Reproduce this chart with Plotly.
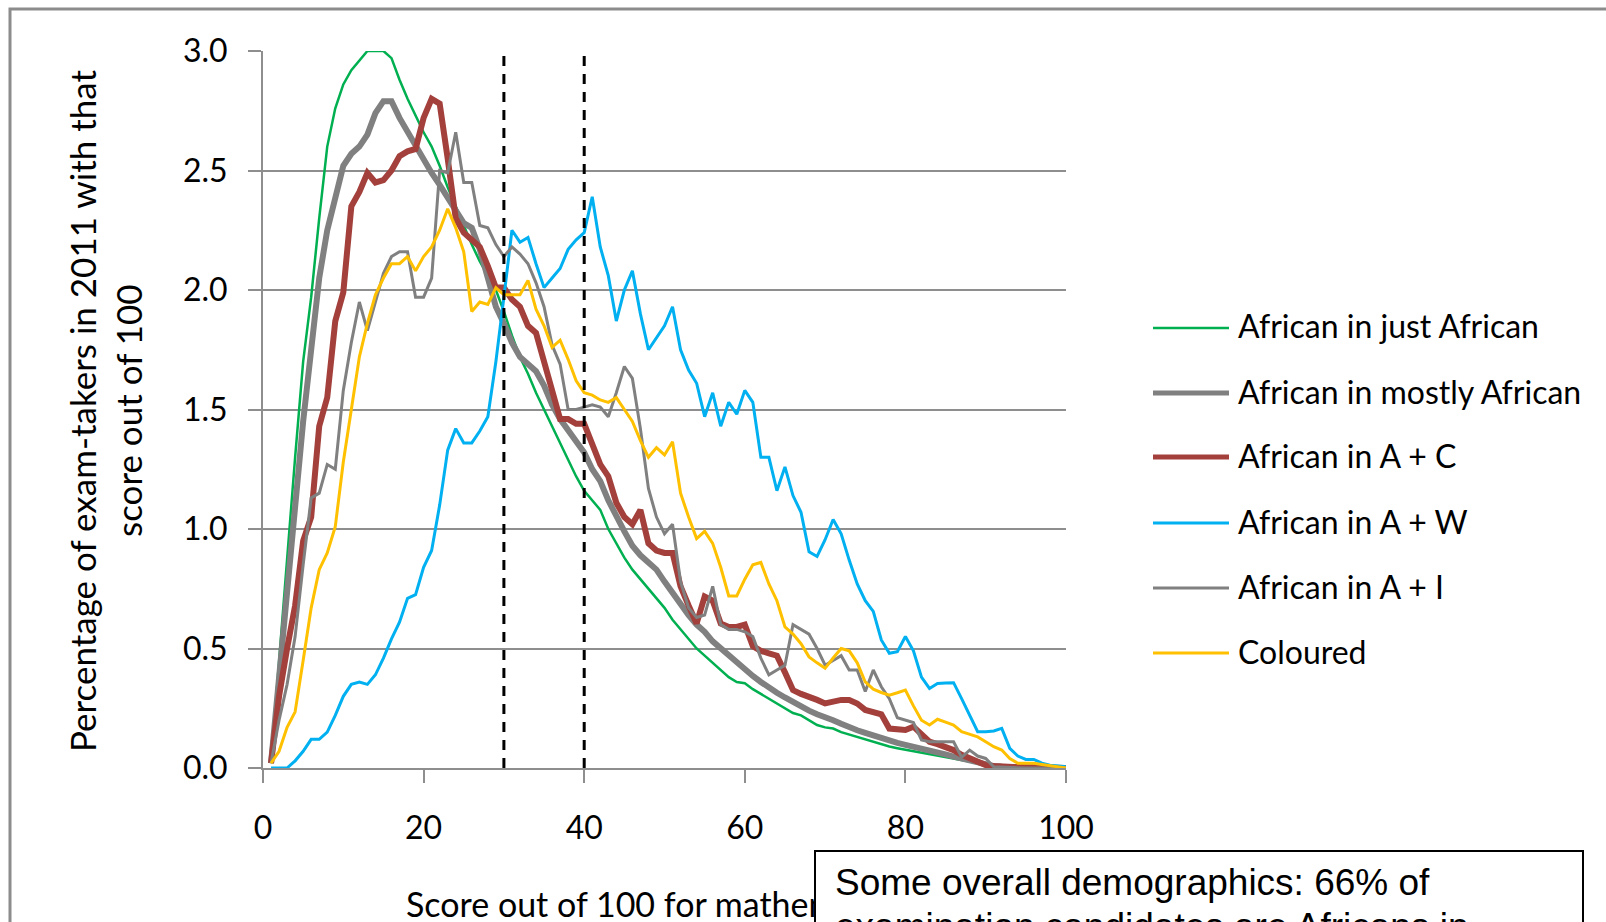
import plotly.graph_objects as go

# ---------------- data ----------------
scores = list(range(1, 101))

just_african = [0.02, 0.45, 0.9, 1.3, 1.7, 1.97, 2.3, 2.6, 2.76, 2.86,
                2.92, 2.96, 3.0, 3.0, 3.0, 2.97, 2.88, 2.8, 2.73, 2.66,
                2.6, 2.52, 2.43, 2.35, 2.27, 2.19, 2.12, 2.06, 2.0, 1.91,
                1.81, 1.72, 1.65, 1.57, 1.5, 1.43, 1.36, 1.29, 1.22, 1.16,
                1.12, 1.08, 1.0, 0.94, 0.88, 0.83, 0.79, 0.75, 0.71, 0.67,
                0.62, 0.58, 0.54, 0.5, 0.47, 0.44, 0.41, 0.38, 0.36, 0.355,
                0.33, 0.31, 0.29, 0.27, 0.25, 0.23, 0.22, 0.2, 0.18, 0.17,
                0.165, 0.15, 0.14, 0.13, 0.118, 0.107, 0.098, 0.09, 0.083, 0.077,
                0.07, 0.065, 0.06, 0.054, 0.047, 0.04, 0.034, 0.027, 0.02, 0.015,
                0.011, 0.008, 0.006, 0.004, 0.003, 0.002, 0.002, 0.001, 0.001, 0.0]

mostly_african = [0.02, 0.38, 0.75, 1.08, 1.45, 1.75, 2.05, 2.25, 2.38, 2.52,
                  2.57, 2.6, 2.65, 2.74, 2.79, 2.79, 2.72, 2.66, 2.6, 2.55,
                  2.49, 2.44, 2.39, 2.33, 2.28, 2.26, 2.17, 2.05, 1.93, 1.86,
                  1.78, 1.72, 1.69, 1.66, 1.6, 1.52, 1.46, 1.41, 1.37, 1.32,
                  1.25, 1.2, 1.12, 1.05, 0.99, 0.93, 0.89, 0.86, 0.83, 0.78,
                  0.73, 0.68, 0.64, 0.6, 0.57, 0.53, 0.5, 0.47, 0.44, 0.41,
                  0.385, 0.36, 0.335, 0.315, 0.295, 0.275, 0.255, 0.24, 0.225, 0.215,
                  0.2, 0.185, 0.17, 0.158, 0.147, 0.135, 0.125, 0.115, 0.105, 0.097,
                  0.09, 0.082, 0.073, 0.065, 0.057, 0.048, 0.04, 0.032, 0.02, 0.012,
                  0.008, 0.005, 0.004, 0.003, 0.002, 0.002, 0.001, 0.001, 0.0, 0.0]

african_a_c = [0.02, 0.3, 0.5, 0.68, 0.95, 1.05, 1.43, 1.55, 1.87, 1.99,
               2.35, 2.41, 2.49, 2.45, 2.46, 2.5, 2.56, 2.58, 2.59, 2.72,
               2.8, 2.78, 2.55, 2.3, 2.24, 2.21, 2.18, 2.1, 2.01, 2.01,
               1.96, 1.93, 1.85, 1.82, 1.7, 1.57, 1.46, 1.46, 1.44, 1.44,
               1.36, 1.27, 1.22, 1.11, 1.05, 1.02, 1.08, 0.94, 0.91, 0.9,
               0.9, 0.76, 0.68, 0.605, 0.717, 0.7, 0.605, 0.59, 0.59, 0.6,
               0.51, 0.49, 0.48, 0.47, 0.4, 0.326, 0.31, 0.3, 0.285, 0.27,
               0.28, 0.285, 0.285, 0.27, 0.243, 0.235, 0.225, 0.165, 0.16, 0.159,
               0.173, 0.14, 0.11, 0.1, 0.087, 0.075, 0.055, 0.04, 0.022, 0.012,
               0.008, 0.005, 0.004, 0.003, 0.002, 0.002, 0.001, 0.001, 0.0, 0.0]

african_a_w = [0.0, 0.0, 0.0, 0.03, 0.07, 0.12, 0.12, 0.15, 0.22, 0.3,
               0.35, 0.36, 0.35, 0.39, 0.46, 0.54, 0.61, 0.71, 0.725, 0.84,
               0.91, 1.1, 1.33, 1.42, 1.36, 1.36, 1.41, 1.47, 1.7, 1.97,
               2.25, 2.2, 2.22, 2.11, 2.01, 2.05, 2.09, 2.17, 2.21, 2.24,
               2.39, 2.18, 2.06, 1.87, 2.0, 2.08, 1.9, 1.75, 1.8, 1.85,
               1.93, 1.75, 1.665, 1.61, 1.47, 1.57, 1.43, 1.53, 1.48, 1.58,
               1.53, 1.3, 1.3, 1.16, 1.26, 1.14, 1.07, 0.905, 0.885, 0.955,
               1.04, 0.98, 0.87, 0.77, 0.7, 0.655, 0.536, 0.48, 0.487, 0.55,
               0.49, 0.38, 0.333, 0.354, 0.356, 0.357, 0.29, 0.22, 0.152, 0.152,
               0.155, 0.166, 0.082, 0.05, 0.036, 0.036, 0.02, 0.012, 0.008, 0.005]

african_a_i = [0.02, 0.2, 0.35, 0.55, 0.85, 1.13, 1.15, 1.27, 1.25, 1.58,
               1.78, 1.95, 1.83, 1.95, 2.07, 2.14, 2.16, 2.16, 1.97, 1.97,
               2.05, 2.5, 2.49, 2.66, 2.45, 2.45, 2.27, 2.26, 2.19, 2.14,
               2.18, 2.15, 2.11, 2.03, 1.93, 1.77, 1.69, 1.5, 1.5, 1.51,
               1.52, 1.51, 1.47, 1.57, 1.68, 1.63, 1.42, 1.17, 1.05, 0.98,
               1.02, 0.78, 0.67, 0.63, 0.64, 0.76, 0.6, 0.58, 0.58, 0.57,
               0.55, 0.46, 0.39, 0.41, 0.43, 0.6, 0.58, 0.56, 0.5, 0.43,
               0.45, 0.47, 0.41, 0.41, 0.32, 0.41, 0.34, 0.29, 0.21, 0.2,
               0.19, 0.117, 0.11, 0.11, 0.11, 0.11, 0.045, 0.075, 0.05, 0.04,
               0.005, 0.003, 0.002, 0.0, 0.0, 0.0, 0.0, 0.0, 0.0, 0.0]

coloured = [0.02, 0.07, 0.17, 0.235, 0.45, 0.67, 0.83, 0.9, 1.01, 1.28,
            1.5, 1.72, 1.86, 1.98, 2.05, 2.11, 2.11, 2.14, 2.08, 2.14,
            2.18, 2.25, 2.34, 2.26, 2.16, 1.91, 1.95, 1.94, 2.01, 1.98,
            1.98, 1.98, 2.04, 1.92, 1.85, 1.76, 1.79, 1.71, 1.62, 1.57,
            1.56, 1.54, 1.53, 1.55, 1.5, 1.45, 1.37, 1.3, 1.34, 1.31,
            1.365, 1.15, 1.05, 0.96, 0.99, 0.94, 0.84, 0.72, 0.72, 0.79,
            0.85, 0.86, 0.77, 0.7, 0.59, 0.56, 0.52, 0.465, 0.44, 0.417,
            0.46, 0.5, 0.49, 0.44, 0.36, 0.33, 0.316, 0.305, 0.315, 0.326,
            0.26, 0.2, 0.18, 0.204, 0.192, 0.18, 0.152, 0.14, 0.13, 0.11,
            0.089, 0.075, 0.04, 0.02, 0.02, 0.02, 0.015, 0.01, 0.005, 0.0]

cutoff_scores = [30, 40]
y_tick_values = [0.0, 0.5, 1.0, 1.5, 2.0, 2.5, 3.0]
x_tick_values = [0, 20, 40, 60, 80, 100]

series_names = ["African in just African", "African in mostly African",
                "African in A + C", "African in A + W", "African in A + I",
                "Coloured"]
series_values = [just_african, mostly_african, african_a_c, african_a_w,
                 african_a_i, coloured]
series_colors = ["#00B050", "#808080", "#A3403C", "#00B0F0", "#808080", "#FFC000"]
series_widths = [2.5, 6, 6, 3, 3, 3]

x_title = "Score out of 100 for mathematics"
y_title_lines = ["Percentage of exam-takers in 2011 with that", "score out of 100"]
note_lines = ["Some overall demographics: 66% of",
              "examination candidates are Africans in"]

# ---------------- layout helpers ----------------
W, H = 1606, 922
PL, PR, PT, PB = 263, 1066, 51, 768  # plot area in pixels


def fx(px):
    return (px - PL) / (PR - PL)


def fy(py):
    return (PB - py) / (PB - PT)


FONT = "Lato, 'Open Sans', sans-serif"
GRID = "#8E8E8E"

fig = go.Figure()

for name, vals, col, w in zip(series_names, series_values, series_colors, series_widths):
    fig.add_trace(go.Scatter(x=scores, y=vals, mode="lines", name=name,
                             line=dict(color=col, width=w), showlegend=False))

for c in cutoff_scores:
    fig.add_trace(go.Scatter(x=[c, c], y=[y_tick_values[0], y_tick_values[-1]],
                             mode="lines", showlegend=False,
                             line=dict(color="black", width=3, dash="10px,8px")))

shapes = []
annotations = []

# outer chart border (cropped screenshot)
shapes.append(dict(type="rect", xref="paper", yref="paper",
                   x0=fx(10), x1=fx(1700), y0=fy(9), y1=fy(1000),
                   line=dict(color="#8C8C8C", width=3), fillcolor="rgba(0,0,0,0)",
                   layer="below"))

# manual legend
legend_rows = [328, 393, 457, 523, 588, 653]
for name, col, w, ry in zip(series_names, series_colors, series_widths, legend_rows):
    shapes.append(dict(type="line", xref="paper", yref="paper",
                       x0=fx(1153), x1=fx(1229), y0=fy(ry), y1=fy(ry),
                       line=dict(color=col, width=min(w, 5))))
    annotations.append(dict(xref="paper", yref="paper", x=fx(1236), y=fy(ry - 2),
                            text=name, showarrow=False, xanchor="left", yanchor="middle",
                            font=dict(family=FONT, size=32, color="#000000")))

# y axis title (two lines)
annotations.append(dict(xref="paper", yref="paper", x=fx(82), y=fy(411),
                        text=y_title_lines[0], textangle=-90, showarrow=False,
                        xanchor="center", yanchor="middle",
                        font=dict(family=FONT, size=35, color="#000000")))
annotations.append(dict(xref="paper", yref="paper", x=fx(128), y=fy(411),
                        text=y_title_lines[1], textangle=-90, showarrow=False,
                        xanchor="center", yanchor="middle",
                        font=dict(family=FONT, size=35, color="#000000")))

# x axis title
annotations.append(dict(xref="paper", yref="paper", x=fx(404), y=fy(903),
                        text=x_title, showarrow=False, xanchor="left", yanchor="middle",
                        font=dict(family=FONT, size=34, color="#000000")))

# note text box
annotations.append(dict(xref="paper", yref="paper", x=fx(814), y=fy(850),
                        text=" ", showarrow=False, xanchor="left", yanchor="top",
                        width=766, height=220, bgcolor="white",
                        bordercolor="black", borderwidth=2, borderpad=0))
annotations.append(dict(xref="paper", yref="paper", x=fx(833), y=fy(883),
                        text=note_lines[0], showarrow=False, xanchor="left", yanchor="middle",
                        font=dict(family="Liberation Sans, Arial, sans-serif", size=37,
                                  color="#000000")))
annotations.append(dict(xref="paper", yref="paper", x=fx(833), y=fy(926),
                        text=note_lines[1], showarrow=False, xanchor="left", yanchor="middle",
                        font=dict(family="Liberation Sans, Arial, sans-serif", size=37,
                                  color="#000000")))

fig.update_layout(
    width=W, height=H,
    margin=dict(l=PL, r=W - PR, t=PT, b=H - PB, pad=0),
    paper_bgcolor="white", plot_bgcolor="white",
    showlegend=False,
    shapes=shapes, annotations=annotations,
    xaxis=dict(range=[0, 100], tickmode="array", tickvals=x_tick_values,
               showgrid=False, zeroline=False, showline=True, linecolor=GRID, linewidth=2,
               ticks="outside", ticklen=13, tickwidth=2, tickcolor=GRID,
               ticklabelstandoff=18,
               tickfont=dict(family=FONT, size=32, color="#000000")),
    yaxis=dict(range=[0, 3.0], tickmode="array", tickvals=y_tick_values,
               tickformat=".1f",
               showgrid=True, gridcolor=GRID, gridwidth=2,
               zeroline=False, showline=True, linecolor=GRID, linewidth=2,
               ticks="outside", ticklen=13, tickwidth=2, tickcolor=GRID,
               ticklabelstandoff=14,
               tickfont=dict(family=FONT, size=32, color="#000000")),
)

fig.write_html("out.html",
               config={"displayModeBar": False},
               post_script="document.body.style.margin='0';"
                           "document.body.style.overflow='hidden';")
